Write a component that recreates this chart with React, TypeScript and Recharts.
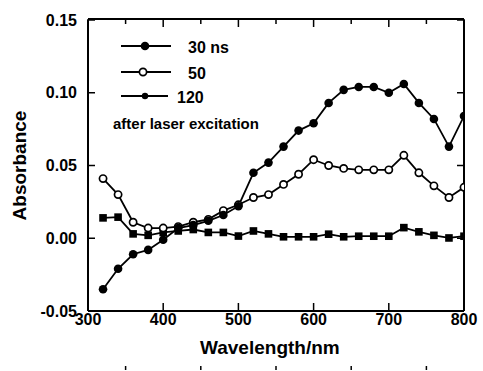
import { LineChart, Line, XAxis, YAxis } from 'recharts';

const wavelengths = [320, 340, 360, 380, 400, 420, 440, 460, 480, 500, 520, 540, 560, 580, 600, 620, 640, 660, 680, 700, 720, 740, 760, 780, 800];
const ns30 = [-0.035, -0.021, -0.011, -0.008, -0.001, 0.007, 0.009, 0.012, 0.016, 0.022, 0.045, 0.052, 0.063, 0.074, 0.079, 0.093, 0.102, 0.104, 0.104, 0.1, 0.106, 0.093, 0.082, 0.063, 0.084];
const ns50 = [0.041, 0.03, 0.011, 0.007, 0.007, 0.008, 0.011, 0.013, 0.019, 0.023, 0.028, 0.03, 0.037, 0.044, 0.054, 0.05, 0.048, 0.047, 0.047, 0.047, 0.057, 0.045, 0.036, 0.028, 0.035];
const ns120 = [0.014, 0.0145, 0.003, 0.002, 0.004, 0.005, 0.006, 0.004, 0.004, 0.0015, 0.005, 0.003, 0.001, 0.001, 0.001, 0.0028, 0.001, 0.0014, 0.0014, 0.0014, 0.0073, 0.0044, 0.002, 0.0002, 0.0014];

const xMajor = [300, 400, 500, 600, 700, 800];
const xMinor = [350, 450, 550, 650, 750];
const yTicks = [-0.05, 0, 0.05, 0.1, 0.15];

const data = wavelengths.map((wl, i) => ({ wl, a: ns30[i], b: ns50[i], c: ns120[i] }));

const FONT = '"Liberation Sans", Arial, Helvetica, sans-serif';
const INK = '#000';
const tickText = { fontFamily: FONT, fontWeight: 'bold', fontSize: 16, fill: INK };
const tickStroke = { stroke: INK, strokeWidth: 1.5 };
const frame = { stroke: INK, strokeWidth: 2 };
const noLabel = () => '';

const FilledDot = ({ cx, cy }: any) => <circle cx={cx} cy={cy} r={4.3} fill={INK} />;
const OpenDot = ({ cx, cy }: any) => <circle cx={cx} cy={cy} r={3.6} fill="#fff" stroke={INK} strokeWidth={1.7} />;
const SquareDot = ({ cx, cy }: any) => <rect x={cx - 3.8} y={cy - 3.8} width={7.6} height={7.6} fill={INK} />;

export default function App() {
	return (
		<div style={{ position: 'absolute', left: 0, top: 0, width: 483, height: 371, background: '#fff' }}>
			<LineChart width={483} height={371} data={data} margin={{ top: 18, right: 18, left: 0, bottom: 0 }} style={{ overflow: 'visible' }}>
				{/* bottom: labelled majors, then a bare axis for the minor ticks */}
				<XAxis
					dataKey="wl"
					type="number"
					domain={[300, 800]}
					ticks={xMajor}
					allowDataOverflow
					height={59}
					tickSize={-8}
					tickMargin={11}
					tickLine={tickStroke}
					axisLine={frame}
					tick={tickText}
					interval={0}
				/>
				<XAxis
					xAxisId="bmin"
					dataKey="wl"
					type="number"
					domain={[300, 800]}
					ticks={xMinor}
					allowDataOverflow
					height={1}
					tickSize={-4}
					tickLine={tickStroke}
					axisLine={false}
					tickFormatter={noLabel}
					interval={0}
				/>
				{/* top and right edges of the frame, ticks only */}
				<XAxis
					xAxisId="top"
					orientation="top"
					dataKey="wl"
					type="number"
					domain={[300, 800]}
					ticks={xMajor}
					allowDataOverflow
					height={1}
					tickSize={-8}
					tickLine={tickStroke}
					axisLine={frame}
					tickFormatter={noLabel}
					interval={0}
				/>
				<XAxis
					xAxisId="tmin"
					orientation="top"
					dataKey="wl"
					type="number"
					domain={[300, 800]}
					ticks={xMinor}
					allowDataOverflow
					height={1}
					tickSize={-4}
					tickLine={tickStroke}
					axisLine={false}
					tickFormatter={noLabel}
					interval={0}
				/>
				<YAxis
					type="number"
					domain={[-0.05, 0.15]}
					ticks={yTicks}
					allowDataOverflow
					width={88}
					tickSize={-7}
					tickMargin={18}
					tickLine={tickStroke}
					axisLine={frame}
					tick={tickText}
					tickFormatter={(v: number) => v.toFixed(2)}
					interval={0}
					label={{ value: 'Absorbance', angle: -90, position: 'insideLeft', offset: 19, style: { fontFamily: FONT, fontWeight: 'bold', fontSize: 19, fill: INK, textAnchor: 'middle' } }}
				/>
				<YAxis
					yAxisId="right"
					orientation="right"
					type="number"
					domain={[-0.05, 0.15]}
					ticks={yTicks}
					allowDataOverflow
					width={1}
					tickSize={-7}
					tickLine={tickStroke}
					axisLine={frame}
					tickFormatter={noLabel}
					interval={0}
				/>
				<Line type="linear" dataKey="c" stroke={INK} strokeWidth={1.8} dot={<SquareDot />} isAnimationActive={false} />
				<Line type="linear" dataKey="b" stroke={INK} strokeWidth={1.8} dot={<OpenDot />} isAnimationActive={false} />
				<Line type="linear" dataKey="a" stroke={INK} strokeWidth={1.8} dot={<FilledDot />} isAnimationActive={false} />
			</LineChart>
			<div style={{ position: 'absolute', left: 200, top: 338, fontFamily: FONT, fontWeight: 'bold', fontSize: 19, lineHeight: '20px' }}>Wavelength/nm</div>
			<svg width={483} height={371} style={{ position: 'absolute', left: 0, top: 0, pointerEvents: 'none' }}>
				<g fontFamily={FONT} fontWeight="bold" fill={INK}>
					<line x1={121} y1={46} x2={171} y2={46} stroke={INK} strokeWidth={1.8} />
					<circle cx={145} cy={46} r={4.3} fill={INK} />
					<text x={188} y={47} dominantBaseline="central" fontSize={16}>30 ns</text>
					<line x1={121} y1={72} x2={171} y2={72} stroke={INK} strokeWidth={1.8} />
					<circle cx={143} cy={72} r={3.6} fill="#fff" stroke={INK} strokeWidth={1.7} />
					<text x={188} y={73} dominantBaseline="central" fontSize={16}>50</text>
					<line x1={121} y1={96} x2={168} y2={96} stroke={INK} strokeWidth={1.8} />
					<circle cx={145} cy={96} r={3.2} fill={INK} />
					<text x={177} y={97} dominantBaseline="central" fontSize={16}>120</text>
					<text x={113} y={129} fontSize={15}>after laser excitation</text>
				</g>
			</svg>
		</div>
	);
}
